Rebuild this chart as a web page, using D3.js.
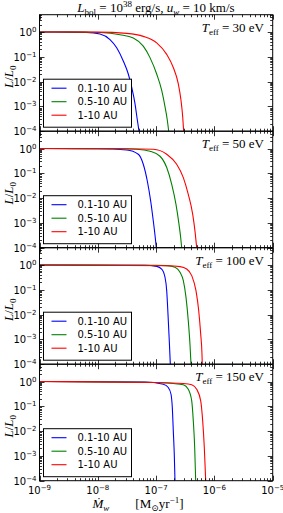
<!DOCTYPE html>
<html>
<head>
<meta charset="utf-8">
<script src="https://cdn.jsdelivr.net/npm/d3@7"></script>
<style>
  body { margin: 0; background: #fff; }
  svg { display: block; }
  .tick-label { font-family: 'DejaVu Sans', sans-serif; font-size: 10px; }
  .math { font-family: 'Liberation Serif', 'DejaVu Serif', serif; }
  .legend-text { font-family: 'DejaVu Sans', sans-serif; font-size: 10px; }
</style>
</head>
<body>
<div id="chart"></div>
<script>
// values as [log10 Mdot, log10 L/L0]
var temps = [30, 50, 100, 150];
var seriesNames = ['0.1-10 AU', '0.5-10 AU', '1-10 AU'];
var xTicks = [-9, -8, -7, -6, -5];
var yTicks = [0, -1, -2, -3, -4];

var t30 = [
  [[-9, 0], [-8.5, -0.003], [-8.2, -0.015], [-7.962, -0.08], [-7.791, -0.306], [-7.676, -0.635], [-7.563, -1.167], [-7.477, -1.694], [-7.419, -2.222], [-7.362, -2.885], [-7.322, -3.548], [-7.293, -4]],
  [[-9, 0], [-8.3, -0.005], [-7.962, -0.02], [-7.619, -0.107], [-7.391, -0.238], [-7.22, -0.571], [-7.105, -1.032], [-6.99, -1.694], [-6.904, -2.357], [-6.847, -3.016], [-6.808, -3.548], [-6.784, -4]],
  [[-9, 0], [-8, -0.005], [-7.504, -0.056], [-7.22, -0.175], [-6.99, -0.437], [-6.818, -0.901], [-6.705, -1.429], [-6.619, -2.091], [-6.573, -2.754], [-6.544, -3.413], [-6.527, -4]]
];
var t50 = [
  [[-9, 0], [-8, -0.01], [-7.504, -0.057], [-7.305, -0.23], [-7.22, -0.634], [-7.151, -1.309], [-7.093, -2.117], [-7.048, -2.925], [-7.014, -3.596], [-6.997, -4]],
  [[-9, 0], [-7.6, -0.01], [-7.333, -0.028], [-7.105, -0.109], [-6.933, -0.311], [-6.818, -0.768], [-6.732, -1.442], [-6.659, -2.251], [-6.607, -3.059], [-6.578, -3.596], [-6.561, -4]],
  [[-9, 0], [-7.5, -0.008], [-7.048, -0.028], [-6.818, -0.23], [-6.647, -0.634], [-6.533, -1.172], [-6.448, -1.846], [-6.372, -2.655], [-6.333, -3.329], [-6.304, -4]]
];
var t100 = [
  [[-9, 0], [-7.2, -0.01], [-6.99, -0.053], [-6.904, -0.162], [-6.847, -0.497], [-6.818, -1.034], [-6.796, -1.98], [-6.774, -3.055], [-6.756, -4]],
  [[-9, 0], [-7, -0.01], [-6.818, -0.024], [-6.676, -0.093], [-6.59, -0.295], [-6.533, -0.63], [-6.487, -1.305], [-6.448, -2.246], [-6.419, -3.192], [-6.401, -4]],
  [[-9, 0], [-6.8, -0.03], [-6.59, -0.065], [-6.475, -0.162], [-6.389, -0.428], [-6.316, -1.034], [-6.269, -1.842], [-6.235, -2.788], [-6.213, -3.596], [-6.208, -4]]
];
var t150 = [
  [[-9, 0], [-7.2, -0.02], [-6.876, -0.109], [-6.791, -0.242], [-6.744, -0.513], [-6.722, -1.051], [-6.705, -1.99], [-6.688, -2.937], [-6.676, -4]],
  [[-9, 0], [-7.2, -0.03], [-6.705, -0.081], [-6.533, -0.133], [-6.448, -0.311], [-6.389, -0.78], [-6.362, -1.588], [-6.338, -2.667], [-6.321, -4]],
  [[-9, 0], [-7, -0.04], [-6.533, -0.081], [-6.389, -0.133], [-6.304, -0.311], [-6.235, -0.78], [-6.201, -1.588], [-6.173, -2.667], [-6.149, -4]]
];
var panelCurves = [t30, t50, t100, t150];

var colors = ['#0000ff', '#008000', '#ff0000'];
var W = 283, H = 513;
var left = 39.5, right = 272.7, top0 = 14.7, panelH = 116.5;

var svg = d3.select('#chart').append('svg')
  .attr('width', W)
  .attr('height', H);

var x = d3.scaleLog().domain([1e-9, 1e-5]).range([left, right]);

function sup(text, base, exp, size) {
  text.append('tspan').text(base);
  text.append('tspan').attr('dy', -4).attr('font-size', size).text(exp);
}

// shift a start-anchored text so its full run (all tspans) is centred / right-aligned
function align(text, mode) {
  var len = text.node().getComputedTextLength();
  var shift = mode === 'end' ? -len : -len / 2;
  text.attr('x', +text.attr('x') + shift);
}

var line = d3.line()
  .x(function(d) { return x(Math.pow(10, d[0])); })
  .curve(d3.curveMonotoneX);

temps.forEach(function(temp, p) {
  var top = top0 + p * panelH,
      bottom = top + panelH,
      y = d3.scaleLog().domain([1e-4, 5]).range([bottom, top]),
      g = svg.append('g');

  g.append('clipPath').attr('id', 'clip' + p)
    .append('rect')
      .attr('x', left).attr('y', top)
      .attr('width', right - left).attr('height', panelH);

  line.y(function(d) { return y(Math.pow(10, d[1])); });

  g.append('g').attr('clip-path', 'url(#clip' + p + ')')
    .selectAll('path')
    .data(panelCurves[p])
    .enter()
    .append('path')
      .attr('d', line)
      .attr('fill', 'none')
      .attr('stroke', function(d, i) { return colors[i]; })
      .attr('stroke-width', 1.1);

  // ticks (inward, all four sides)
  var ticksG = g.append('g').attr('stroke', '#000').attr('stroke-width', 0.8);
  x.ticks().forEach(function(v) {
    var major = Math.abs(Math.log10(v) - Math.round(Math.log10(v))) < 1e-6,
        len = major ? 5 : 2.5,
        px = Math.round(x(v)) + 0.5;
    ticksG.append('line').attr('x1', px).attr('x2', px).attr('y1', bottom).attr('y2', bottom - len);
    ticksG.append('line').attr('x1', px).attr('x2', px).attr('y1', top).attr('y2', top + len);
  });
  y.ticks().forEach(function(v) {
    var major = Math.abs(Math.log10(v) - Math.round(Math.log10(v))) < 1e-6,
        len = major ? 5 : 2.5,
        py = Math.round(y(v)) + 0.5;
    ticksG.append('line').attr('y1', py).attr('y2', py).attr('x1', left).attr('x2', left + len);
    ticksG.append('line').attr('y1', py).attr('y2', py).attr('x1', right).attr('x2', right - len);
  });

  g.append('rect')
    .attr('x', left).attr('y', top)
    .attr('width', right - left).attr('height', panelH)
    .attr('fill', 'none')
    .attr('stroke', '#000')
    .attr('stroke-width', 1);

  yTicks.forEach(function(e) {
    var t = g.append('text')
      .attr('class', 'tick-label')
      .attr('x', left - 3)
      .attr('y', y(Math.pow(10, e)) + 4);
    sup(t, '10', e === 0 ? '0' : '\u2212' + (-e), 7);
    align(t, 'end');
  });

  // legend
  var lg = g.append('g').attr('transform', 'translate(43.5,' + (bottom - 52) + ')');
  lg.append('rect')
    .attr('width', 88).attr('height', 48)
    .attr('fill', '#fff')
    .attr('stroke', '#000')
    .attr('stroke-width', 1);
  seriesNames.forEach(function(name, i) {
    var ry = 9 + i * 13.5;
    lg.append('line')
      .attr('x1', 8).attr('x2', 23).attr('y1', ry).attr('y2', ry)
      .attr('stroke', colors[i]).attr('stroke-width', 1.1);
    lg.append('text')
      .attr('class', 'legend-text')
      .attr('x', 34).attr('y', ry + 3.5)
      .text(name);
  });

  // T_eff note
  var note = g.append('text')
    .attr('class', 'math')
    .attr('x', 264).attr('y', top + 17)
    .attr('font-size', 13);
  note.append('tspan').attr('font-style', 'italic').text('T');
  note.append('tspan').attr('dy', 3).attr('font-size', 9).text('eff');
  note.append('tspan').attr('dy', -3).text(' = ' + temp + ' eV');
  align(note, 'end');

  // y label, rotated about its own centre
  var yl = g.append('text')
    .attr('class', 'math')
    .attr('x', 0).attr('y', 0)
    .attr('font-size', 13);
  yl.append('tspan').attr('font-style', 'italic').text('L');
  yl.append('tspan').text('/');
  yl.append('tspan').attr('font-style', 'italic').text('L');
  yl.append('tspan').attr('dy', 3).attr('font-size', 9).text('0');
  var bb = yl.node().getBBox();
  yl.attr('transform', 'translate(13,' + (top + panelH / 2 + 4) + ') rotate(-90) translate(' + (-(bb.x + bb.width / 2)) + ',0)');
});

// x tick labels
var xBottom = top0 + 4 * panelH;
xTicks.forEach(function(e) {
  var t = svg.append('text')
    .attr('class', 'tick-label')
    .attr('x', x(Math.pow(10, e)))
    .attr('y', xBottom + 13);
  sup(t, '10', '\u2212' + (-e), 7);
  align(t, 'middle');
});

// title
var title = svg.append('text')
  .attr('class', 'math')
  .attr('x', 156).attr('y', 12)
  .attr('font-size', 13);
title.append('tspan').attr('font-style', 'italic').text('L');
title.append('tspan').attr('dy', 3).attr('font-size', 9).text('bol');
title.append('tspan').attr('dy', -3).text(' = 10');
title.append('tspan').attr('dy', -5).attr('font-size', 9).text('38');
title.append('tspan').attr('dy', 5).text('  erg/s, ');
title.append('tspan').attr('font-style', 'italic').text('u');
title.append('tspan').attr('dy', 3).attr('font-size', 9).attr('font-style', 'italic').text('w');
title.append('tspan').attr('dy', -3).text(' = 10 km/s');
align(title, 'middle');

// x label
var xl = svg.append('text')
  .attr('class', 'math')
  .attr('x', 138).attr('y', 508)
  .attr('font-size', 13);
xl.append('tspan').attr('font-style', 'italic').text('\u1E40');
xl.append('tspan').attr('dy', 2.5).attr('font-size', 9).attr('font-style', 'italic').text('w');
xl.append('tspan').attr('dy', -2.5).text('\u2003\u2003[M');
xl.append('tspan').attr('dy', 2.5).attr('font-size', 9).text('\u2299');
xl.append('tspan').attr('dy', -2.5).text('yr');
xl.append('tspan').attr('dy', -5).attr('font-size', 9).text('\u22121');
xl.append('tspan').attr('dy', 5).text(']');
align(xl, 'middle');
</script>
</body>
</html>
